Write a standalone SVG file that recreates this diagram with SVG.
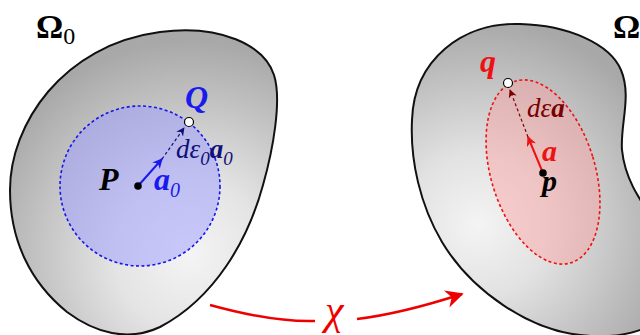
<svg xmlns="http://www.w3.org/2000/svg" width="640" height="335" viewBox="0 0 640 335">
<defs>
<radialGradient id="gL" gradientUnits="userSpaceOnUse" cx="190" cy="255" r="215">
<stop offset="0" stop-color="#f4f4f4"/><stop offset="0.35" stop-color="#e4e4e4"/><stop offset="1" stop-color="#a8a8a8"/>
</radialGradient>
<radialGradient id="gR" gradientUnits="userSpaceOnUse" cx="478" cy="225" r="205">
<stop offset="0" stop-color="#f4f4f4"/><stop offset="0.35" stop-color="#e2e2e2"/><stop offset="1" stop-color="#a8a8a8"/>
</radialGradient>
<marker id="mBlue" viewBox="0 0 10 10" refX="9" refY="5" markerWidth="5" markerHeight="5" orient="auto" markerUnits="strokeWidth">
<path d="M0,0 L10,5 L0,10 L3,5 Z" fill="#1a1aee"/>
</marker>
<marker id="mNavy" viewBox="0 0 10 10" refX="9" refY="5" markerWidth="7" markerHeight="7" orient="auto" markerUnits="strokeWidth">
<path d="M0,0 L10,5 L0,10 L3,5 Z" fill="#10107a"/>
</marker>
<marker id="mRed" viewBox="0 0 10 10" refX="9" refY="5" markerWidth="5" markerHeight="5" orient="auto" markerUnits="strokeWidth">
<path d="M0,0 L10,5 L0,10 L3,5 Z" fill="#ee1111"/>
</marker>
<marker id="mDRed" viewBox="0 0 10 10" refX="9" refY="5" markerWidth="7" markerHeight="7" orient="auto" markerUnits="strokeWidth">
<path d="M0,0 L10,5 L0,10 L3,5 Z" fill="#7a0000"/>
</marker>
<marker id="mChi" viewBox="0 0 10 10" refX="9" refY="5" markerWidth="18" markerHeight="18" orient="auto" markerUnits="userSpaceOnUse">
<path d="M0,0 L10,5 L0,10 L3,5 Z" fill="#ee0000"/>
</marker>
</defs>
<style>
.blob{stroke:#111;stroke-width:2}
.bi{font-family:"Liberation Serif",serif;font-style:italic;font-weight:bold}
.it{font-family:"Liberation Serif",serif;font-style:italic}
.up{font-family:"Liberation Serif",serif}
.pt{fill:#000}
.open{fill:#fff;stroke:#000;stroke-width:1.2}
</style>
<g id="body0">
<path class="blob" fill="url(#gL)" d="M160,32 C220,24 264,45 274,75 C282,100 273,150 263,185 C248,240 215,298 160,327 C128,342 95,333 67,312 C30,282 10,240 10,190 C10,125 62,45 160,32 Z"/>
<circle cx="140" cy="186" r="80" fill="#9c9cff" fill-opacity="0.5" stroke="#1515ee" stroke-width="1.6" stroke-dasharray="3,2.5"/>
<text class="up" x="36" y="38" font-size="34" font-weight="bold">Ω<tspan font-size="24" font-weight="normal" dy="6">0</tspan></text>
</g>
<g id="bodyt">
<path class="blob" fill="url(#gR)" d="M520,24 C568,25 610,44 621,70 C632,96 620,125 622,150 C625,180 640,200 660,230 L680,300 C662,330 620,340 580,335 C530,330 472,292 442,242 C420,205 410,160 412,120 C414,60 462,22 520,24 Z"/>
<ellipse cx="543" cy="172" rx="52" ry="95" transform="rotate(-17 543 172)" fill="#ff9a9a" fill-opacity="0.42" stroke="#ee1111" stroke-width="1.6" stroke-dasharray="3,2.5"/>
<text class="up" x="613" y="38" font-size="34" font-weight="bold">Ω</text>
</g>
<g id="connectors">
<line x1="138" y1="186" x2="162" y2="159" stroke="#1a1aee" stroke-width="2" marker-end="url(#mBlue)"/>
<line x1="162" y1="159" x2="184" y2="128" stroke="#10107a" stroke-width="1.2" stroke-dasharray="3,2.5" marker-end="url(#mNavy)"/>
<line x1="543" y1="173" x2="528" y2="137" stroke="#ee1111" stroke-width="2" marker-end="url(#mRed)"/>
<line x1="528" y1="137" x2="510" y2="90" stroke="#7a0000" stroke-width="1.2" stroke-dasharray="3,2.5" marker-end="url(#mDRed)"/>
<path d="M210,305 C250,316 285,322 315,321" fill="none" stroke="#ee0000" stroke-width="2.5"/>
<path d="M357,319 C390,315 425,306 462,294" fill="none" stroke="#ee0000" stroke-width="2.5" marker-end="url(#mChi)"/>
</g>
<g id="P">
<circle class="pt" cx="138" cy="186" r="3.8"/>
<text class="bi" x="99" y="190" font-size="32">P</text>
</g>
<g id="a0">
<text class="bi" x="154" y="190" font-size="32" fill="#1a1aee">a<tspan class="it" font-weight="normal" font-size="20" dy="7">0</tspan></text>
</g>
<g id="Q">
<circle class="open" cx="189" cy="122" r="4.5"/>
<text class="bi" x="185" y="108" font-size="32" fill="#1a1aee">Q</text>
</g>
<g id="dea0">
<text class="it" x="176" y="158" font-size="27" fill="#10107a">dε<tspan font-size="19" dy="7">0</tspan><tspan class="bi" font-size="27" dy="-7">a</tspan><tspan font-size="19" dy="7">0</tspan></text>
</g>
<g id="p">
<circle class="pt" cx="543" cy="173" r="3.8"/>
<text class="bi" x="542" y="191" font-size="30">p</text>
</g>
<g id="a">
<text class="bi" x="542" y="161" font-size="30" fill="#ee1111">a</text>
</g>
<g id="q">
<circle class="open" cx="508" cy="83" r="4.5"/>
<text class="bi" x="480" y="72" font-size="32" fill="#ee1111">q</text>
</g>
<g id="dea">
<text class="it" x="527" y="117" font-size="27" fill="#7a0000">dε<tspan class="bi">a</tspan></text>
</g>
<g id="chi">
<text class="it" x="325" y="324" font-size="42" fill="#ee0000">χ</text>
</g>
</svg>
